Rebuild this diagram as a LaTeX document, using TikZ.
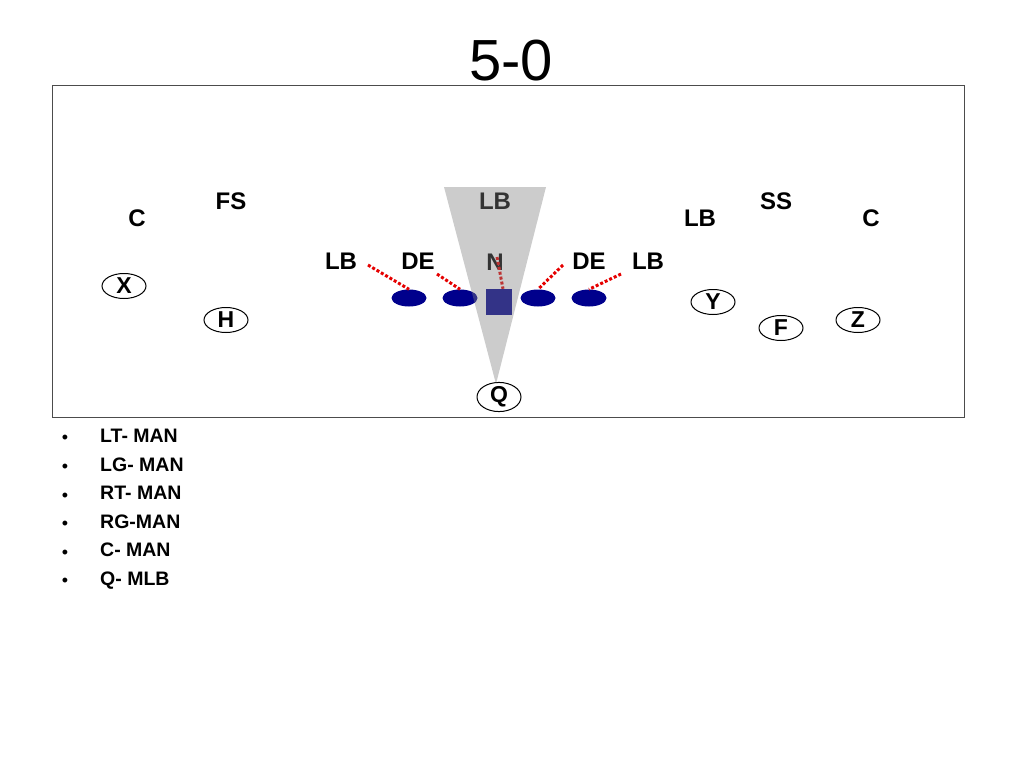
\documentclass[tikz,border=0pt]{standalone}
\usepackage{fontspec}
\setmainfont{Liberation Sans}
\usetikzlibrary{shapes.geometric}
\definecolor{navyline}{RGB}{0,0,140}

\begin{document}
\begin{tikzpicture}[x=1pt,y=-1pt,
	lbl/.style={font=\fontsize{24}{24}\selectfont\bfseries,inner sep=0pt},
	player/.style={draw,ellipse,line width=1pt,minimum width=44pt,minimum height=25pt,inner sep=0pt,font=\fontsize{23}{23}\selectfont\bfseries},
	lineman/.style={ellipse,fill=navyline,minimum width=35pt,minimum height=17pt,inner sep=0pt},
	block/.style={red!90!black,line width=3pt,dash pattern=on 3pt off 2pt},
	item/.style={anchor=west,font=\fontsize{19.5}{19.5}\selectfont\bfseries,inner sep=0pt,text depth=0pt},
	dot/.style={font=\fontsize{18}{18}\selectfont,inner sep=0pt}]
\useasboundingbox (0,0) rectangle (1024,768);
\draw (511,61) node (title) {\fontsize{58}{58}\selectfont 5-0};
\draw [line width=1pt,black!70] (52,85) rectangle (964,417);
% defense
\draw (137,218) node [lbl] (cL) {C};
\draw (231,201) node [lbl] (fs) {FS};
\draw (495,201) node [lbl] (lbM) {LB};
\draw (700,218) node [lbl] (lbR) {LB};
\draw (776,201) node [lbl] (ss) {SS};
\draw (871,218) node [lbl] (cR) {C};
\draw (341,261) node [lbl] (lbL2) {LB};
\draw (418,261) node [lbl] (deL) {DE};
\draw (495,262) node [lbl] (n) {N};
\draw (589,261) node [lbl] (deR) {DE};
\draw (648,261) node [lbl] (lbR2) {LB};
% line
\draw (409,298) node [lineman] (lt) {};
\draw (460,298) node [lineman] (lg) {};
\draw (499,302) node [fill=navyline,minimum size=26pt,inner sep=0pt] (ce) {};
\draw (538,298) node [lineman] (rg) {};
\draw (589,298) node [lineman] (rt) {};
% offense
\draw (124,286) node [player] (x) {X};
\draw (226,320) node [player] (h) {H};
\draw (713,302) node [player] (y) {Y};
\draw (781,328) node [player] (f) {F};
\draw (858,320) node [player] (z) {Z};
\draw (499,397) node [player] (q) {Q};
% blocks
\coordinate (sLT) at (368,265);
\coordinate (sLG) at (437,274);
\coordinate (sC) at (497,257);
\coordinate (sRG) at (563,265);
\coordinate (sRT) at (621,274);
\draw [block] (sLT) -- (lt.north);
\draw [block] (sLG) -- (lg.north);
\draw [block] (sC) -- ([xshift=4pt]ce.north);
\draw [block] (sRG) -- (rg.north);
\draw [block] (sRT) -- (rt.north);
% zone
\coordinate (zl) at (444,187);
\coordinate (zr) at (546,187);
\coordinate (zq) at (496,384);
\fill [gray,opacity=0.4] (zl) -- (zr) -- (zq) -- cycle;
% assignments
\foreach \t [count=\i] in {LT- MAN,LG- MAN,RT- MAN,RG-MAN,C- MAN,Q- MLB}{
	\draw (65,411+28.6*\i) node [dot] (b\i) {•};
	\draw (100,407+28.6*\i) node [item] (t\i) {\t};
}
\end{tikzpicture}
\end{document}
